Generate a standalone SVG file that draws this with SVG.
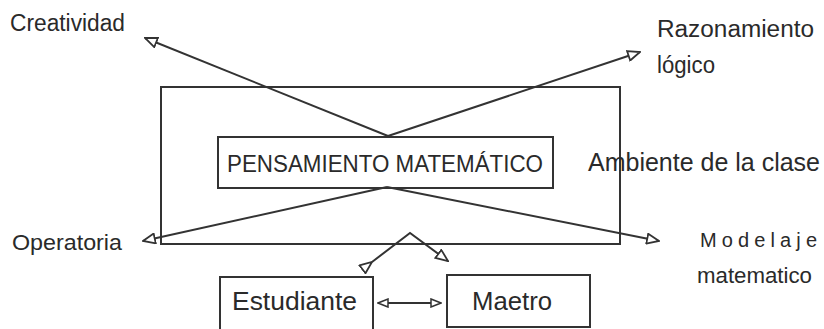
<svg xmlns="http://www.w3.org/2000/svg" width="824" height="329" viewBox="0 0 824 329">
<style>
.box{fill:none;stroke:#333;stroke-width:2}
.ln{fill:none;stroke:#333;stroke-width:2}
.t{font-family:"Liberation Sans",Arial,sans-serif;fill:#2a2a2a}
</style>
<defs>
<marker id="ah" markerUnits="userSpaceOnUse" markerWidth="14" markerHeight="12" refX="12" refY="5" orient="auto" viewBox="-1 -1 14 12">
<path d="M0,0 L12,5 L0,10 Z" fill="#fff" stroke="#333" stroke-width="1.8"/>
</marker>
<marker id="ahs" markerUnits="userSpaceOnUse" markerWidth="12" markerHeight="10" refX="10" refY="4" orient="auto-start-reverse" viewBox="-1 -1 12 10">
<path d="M0,0 L10,4 L0,8 Z" fill="#fff" stroke="#333" stroke-width="1.5"/>
</marker>
</defs>
<rect width="824" height="329" fill="#fff"/>
<g id="ambiente">
<rect class="box" x="161" y="87" width="459" height="157"/>
<text class="t" x="588" y="171" font-size="25" textLength="232" lengthAdjust="spacingAndGlyphs">Ambiente de la clase</text>
</g>
<g id="pensamiento">
<rect class="box" x="218" y="137" width="335" height="51" fill="#fff"/>
<text class="t" x="227" y="172" font-size="23" textLength="316" lengthAdjust="spacingAndGlyphs">PENSAMIENTO MATEMÁTICO</text>
</g>
<g id="creatividad">
<text class="t" x="10" y="31" font-size="23" textLength="115" lengthAdjust="spacingAndGlyphs">Creatividad</text>
</g>
<g id="razonamiento">
<text class="t" x="657" y="37" font-size="23" textLength="157" lengthAdjust="spacingAndGlyphs">Razonamiento</text>
<text class="t" x="657" y="73" font-size="23" textLength="58" lengthAdjust="spacingAndGlyphs">lógico</text>
</g>
<g id="operatoria">
<text class="t" x="12" y="250" font-size="22" textLength="110" lengthAdjust="spacingAndGlyphs">Operatoria</text>
</g>
<g id="modelaje">
<text class="t" x="700" y="247" font-size="20" textLength="117" lengthAdjust="spacing">Modelaje</text>
<text class="t" x="697" y="283" font-size="22" textLength="115" lengthAdjust="spacingAndGlyphs">matematico</text>
</g>
<g id="estudiante">
<rect class="box" x="220" y="277" width="153" height="56"/>
<text class="t" x="232" y="310" font-size="26" textLength="125" lengthAdjust="spacingAndGlyphs">Estudiante</text>
</g>
<g id="maetro">
<rect class="box" x="447" y="275" width="143" height="52"/>
<text class="t" x="472" y="310" font-size="26" textLength="80" lengthAdjust="spacingAndGlyphs">Maetro</text>
</g>
<g id="connectors">
<line class="ln" x1="388" y1="136" x2="145" y2="38" marker-end="url(#ah)"/>
<line class="ln" x1="388" y1="136" x2="640" y2="52" marker-end="url(#ah)"/>
<line class="ln" x1="387" y1="187" x2="143" y2="241" marker-end="url(#ah)"/>
<line class="ln" x1="387" y1="187" x2="659" y2="241" marker-end="url(#ah)"/>
<polyline class="ln" points="372,262 410,233 448,261" stroke-width="1.6" marker-start="url(#ah)" marker-end="url(#ah)"/>
<line class="ln" x1="378" y1="303" x2="441" y2="303" stroke-width="1.6" marker-start="url(#ahs)" marker-end="url(#ahs)"/>
</g>
</svg>
